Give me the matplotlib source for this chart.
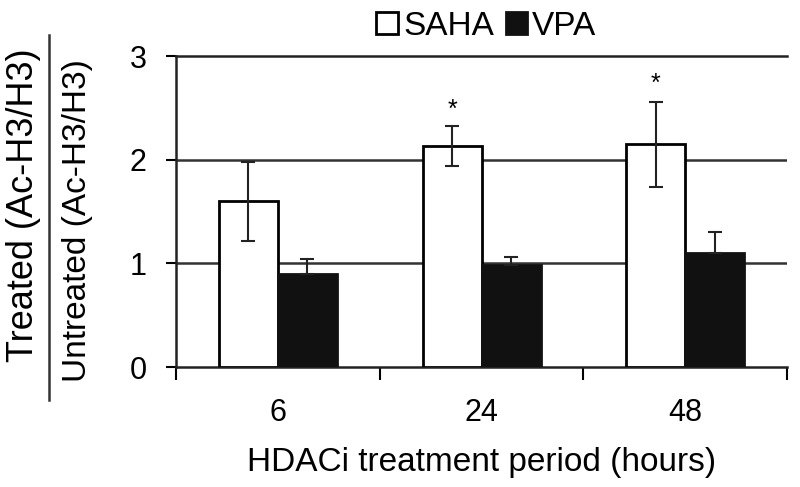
import numpy as np
import matplotlib.pyplot as plt
from matplotlib.lines import Line2D

plt.rcParams['font.family'] = ['Liberation Sans', 'DejaVu Sans']

# data
periods = ["6", "24", "48"]
saha = [1.60, 2.13, 2.15]
saha_err = [0.38, 0.19, 0.41]
vpa = [0.90, 0.98, 1.10]
vpa_err = [0.14, 0.08, 0.20]
star_y = [None, 2.48, 2.73]

fig = plt.figure(figsize=(8, 4.87), dpi=100)
ax = fig.add_axes([0.22, 0.2464, 0.764, 0.6386])

x = np.arange(len(periods))
w = 0.29
ax.bar(x - w / 2, saha, w, color="white", edgecolor="black", linewidth=2, zorder=3, label="SAHA")
ax.bar(x + w / 2, vpa, w, color="#111111", edgecolor="#111111", linewidth=2, zorder=3, label="VPA")
ax.errorbar(x - w / 2, saha, yerr=saha_err, fmt="none", ecolor="#222222",
            elinewidth=1.5, capsize=5, capthick=1.5, zorder=4)
# only the upper half shows above the black bars
ax.errorbar(x + w / 2, vpa, yerr=[np.zeros(len(vpa)), vpa_err], fmt="none", ecolor="#222222",
            elinewidth=1.5, capsize=5, capthick=1.5, zorder=4)

for xi, sy in zip(x, star_y):
    if sy is not None:
        ax.text(xi - w / 2, sy, "*", ha="center", va="center", fontsize=18)

# axes styling
ax.set_xlim(-0.5, 2.5)
ax.set_ylim(0, 3)
ax.set_yticks([0, 1, 2, 3])
ax.tick_params(axis="y", labelsize=22, length=7, width=1.5, pad=14)
for yv in [1, 2]:
    ax.axhline(yv, color="#333333", lw=1.8, zorder=1)
ax.set_xticks([-0.5, 0.5, 1.5, 2.5])
ax.set_xticklabels([])
ax.set_xticks(x, minor=True)
ax.set_xticklabels(periods, minor=True)
ax.tick_params(axis="x", which="major", length=9, width=1.5, direction="out")
ax.tick_params(axis="x", which="minor", length=0, labelsize=22, pad=22)
ax.spines["right"].set_visible(False)
for s in ["left", "bottom", "top"]:
    ax.spines[s].set_linewidth(1.8)
    ax.spines[s].set_color("#222222")

ax.set_xlabel("HDACi treatment period (hours)", fontsize=24, labelpad=14)

# fraction-style y label
fig.text(0.029, 0.579, "Treated (Ac-H3/H3)", rotation=90, ha="center", va="center", fontsize=26)
fig.text(0.097, 0.548, "Untreated (Ac-H3/H3)", rotation=90, ha="center", va="center", fontsize=24)
fig.add_artist(Line2D([0.061, 0.061], [1 - 35 / 487, 1 - 400 / 487], color="#333333", lw=1.8))

# legend
fig.legend(loc="upper center", bbox_to_anchor=(0.608, 1.005), ncol=2, frameon=False,
           fontsize=24, handlelength=0.65, handleheight=0.65, handletextpad=0.15,
           columnspacing=0.35, borderaxespad=0)

fig.savefig("out.png", dpi=100)
